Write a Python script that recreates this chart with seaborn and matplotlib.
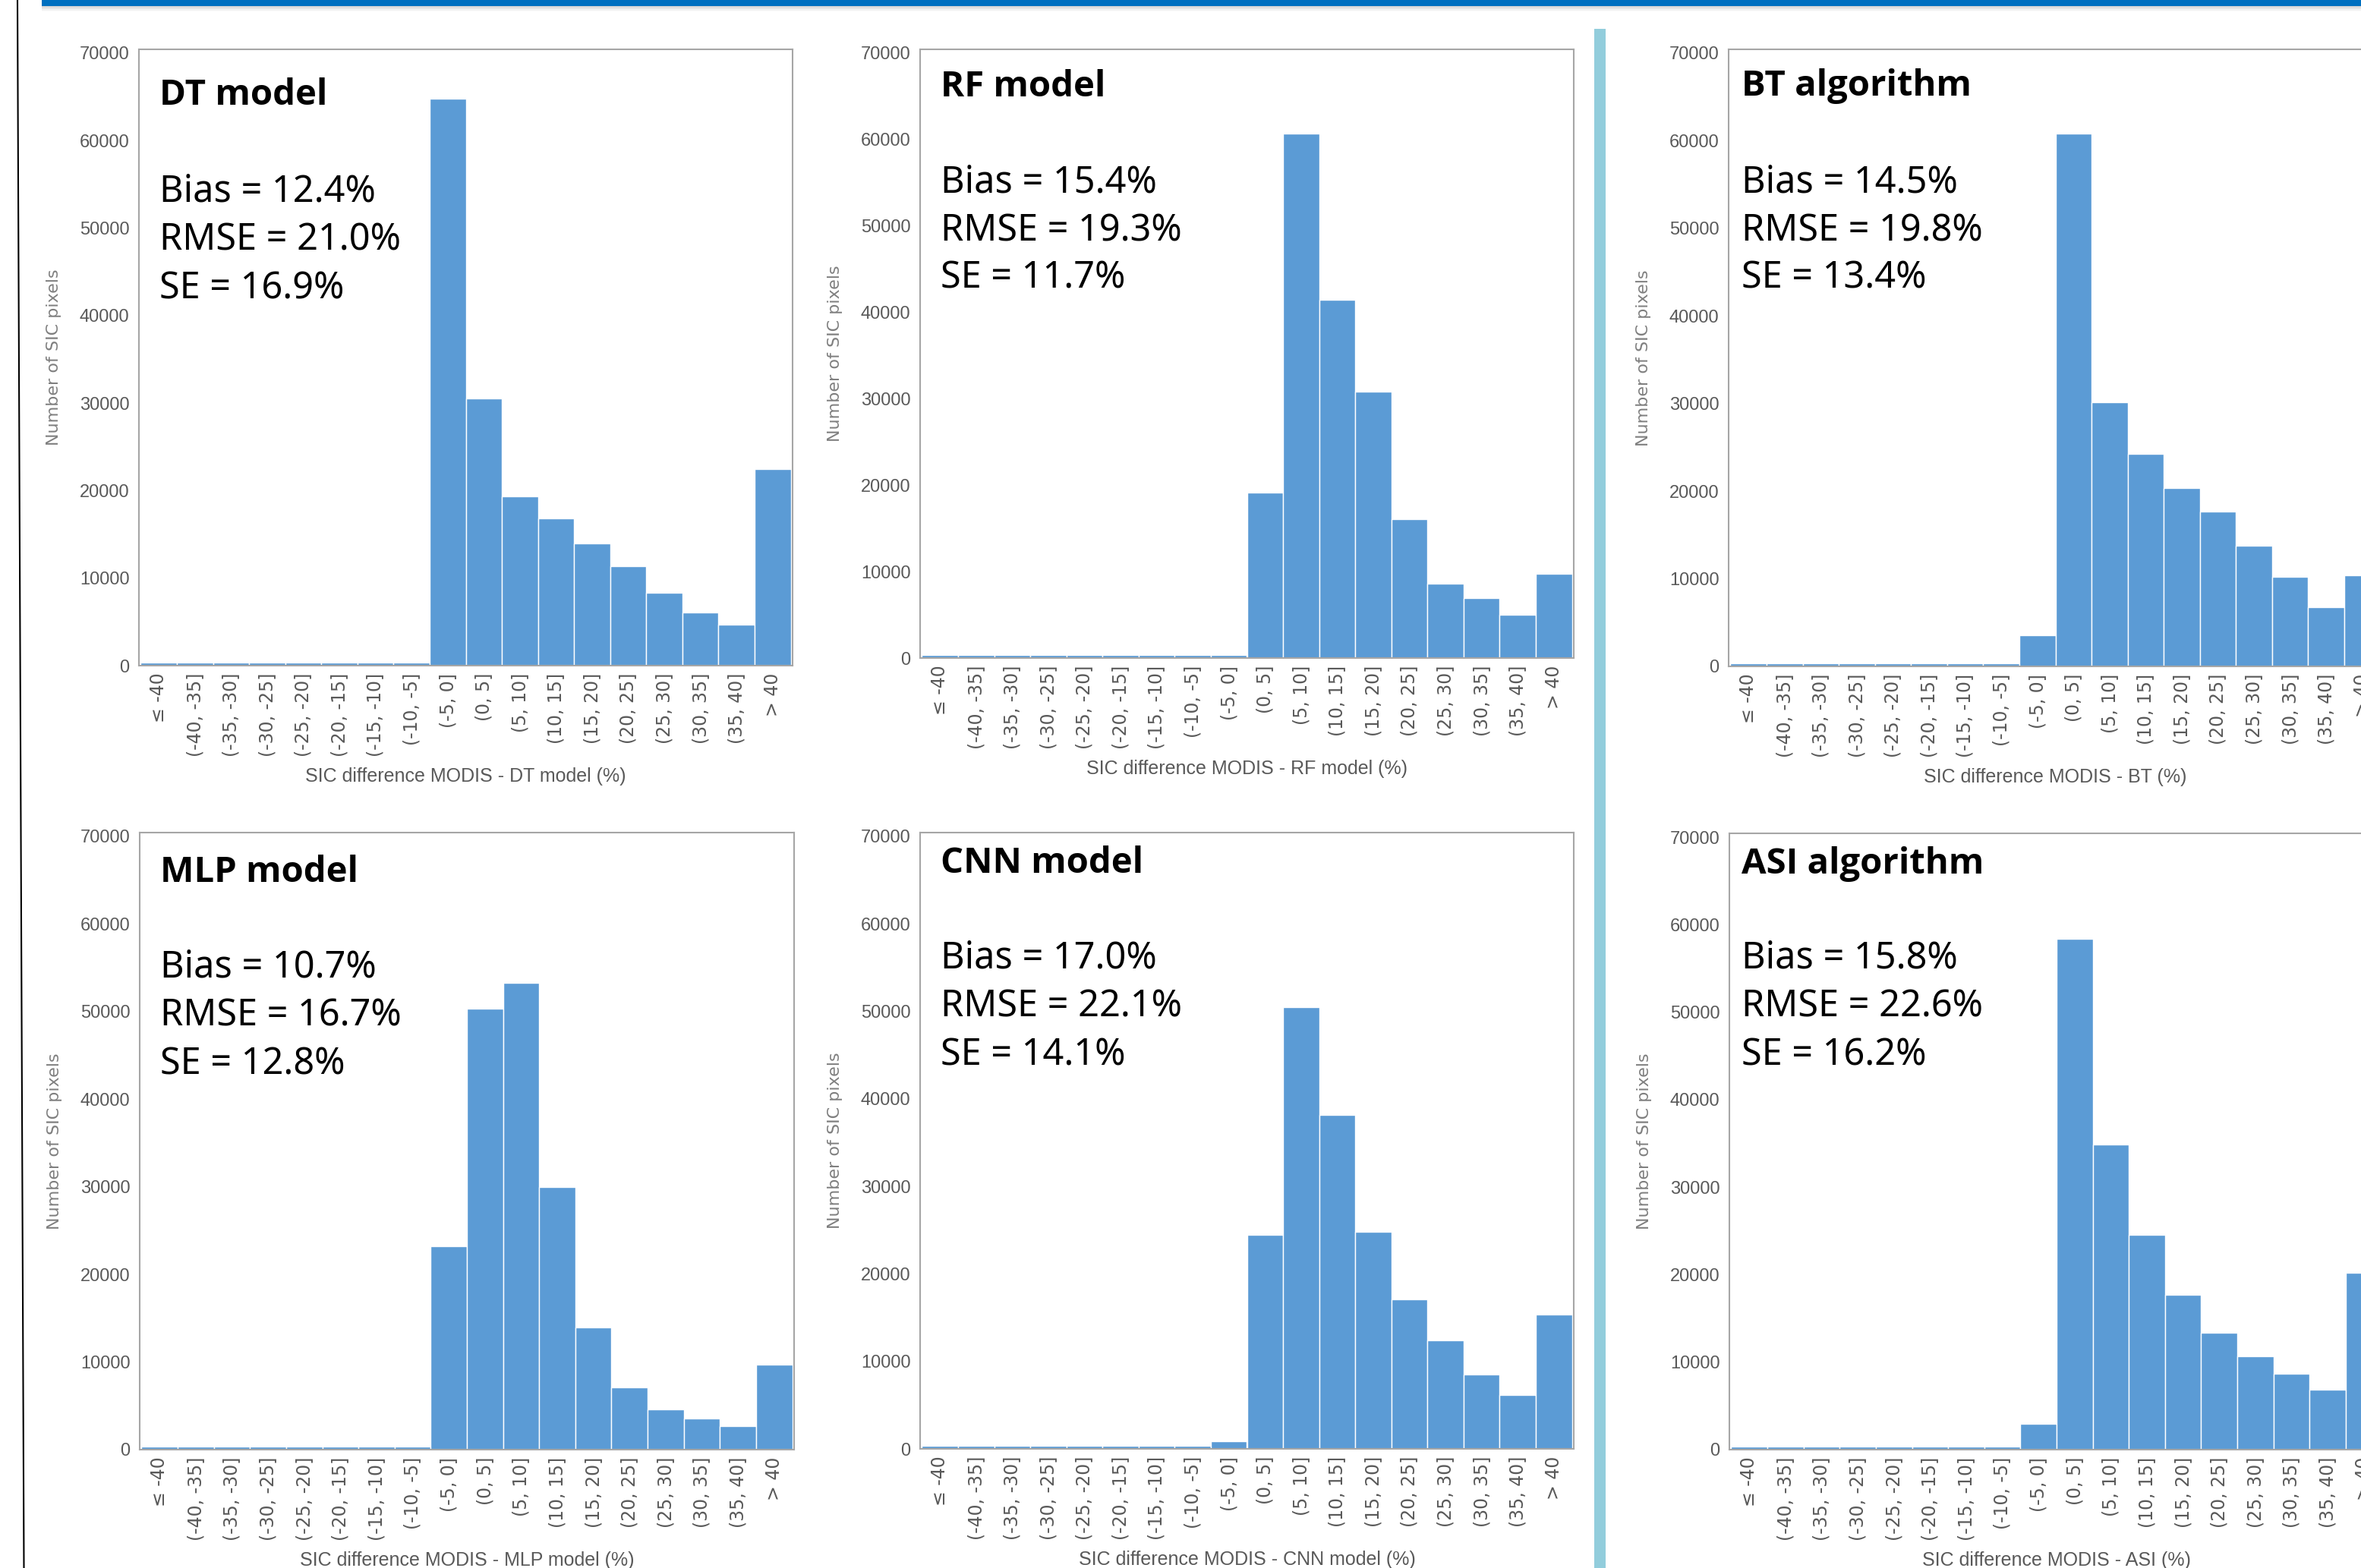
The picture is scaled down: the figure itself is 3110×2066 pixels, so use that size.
import matplotlib
matplotlib.use("Agg")
import matplotlib.pyplot as plt
import seaborn as sns
import pandas as pd
from matplotlib import font_manager
from matplotlib.lines import Line2D
from matplotlib.patches import Rectangle

# ---- data -------------------------------------------------------------
bins = ["≤ -40", "(-40, -35]", "(-35, -30]", "(-30, -25]", "(-25, -20]",
        "(-20, -15]", "(-15, -10]", "(-10, -5]", "(-5, 0]", "(0, 5]",
        "(5, 10]", "(10, 15]", "(15, 20]", "(20, 25]", "(25, 30]",
        "(30, 35]", "(35, 40]", "> 40"]

dt_counts = [350, 350, 350, 350, 350, 350, 350, 350,
             64800, 30500, 19300, 16800, 13970, 11340, 8370, 6070, 4660, 22440]
rf_counts = [350, 350, 350, 350, 350, 350, 350, 350, 350,
             19180, 60730, 41460, 30840, 16040, 8610, 6900, 5000, 9710]
bt_counts = [350, 350, 350, 350, 350, 350, 350, 350,
             3520, 60780, 30150, 24240, 20340, 17710, 13810, 10190, 6760, 10380]
mlp_counts = [350, 350, 350, 350, 350, 350, 350, 350,
              23180, 50300, 53300, 29990, 13940, 7090, 4600, 3520, 2670, 9710]
cnn_counts = [350, 350, 350, 350, 350, 350, 350, 350,
              890, 24430, 50450, 38140, 24850, 17050, 12400, 8500, 6150, 15360]
asi_counts = [350, 350, 350, 350, 350, 350, 350, 350,
              2910, 58390, 34850, 24570, 17710, 13340, 10710, 8690, 6810, 20200]

titles = ["DT model", "RF model", "BT algorithm",
          "MLP model", "CNN model", "ASI algorithm"]
bias = [12.4, 15.4, 14.5, 10.7, 17.0, 15.8]
rmse = [21.0, 19.3, 19.8, 16.7, 22.1, 22.6]
se = [16.9, 11.7, 13.4, 12.8, 14.1, 16.2]
xlabels = ["SIC difference MODIS - DT model (%)",
           "SIC difference MODIS - RF model (%)",
           "SIC difference MODIS - BT (%)",
           "SIC difference MODIS - MLP model (%)",
           "SIC difference MODIS - CNN model (%)",
           "SIC difference MODIS - ASI (%)"]
counts = [dt_counts, rf_counts, bt_counts, mlp_counts, cnn_counts, asi_counts]

# ---- layout (figure pixels) --------------------------------------------
W, H = 3110, 2066
# left, right, pixel row of 0, pixel row of 70000
boxes = [(183, 1044, 877, 70), (1212, 2073, 867, 70), (2277, 3138, 878, 70),
         (184, 1046, 1910, 1102), (1212, 2073, 1909, 1102), (2278, 3140, 1910, 1103)]
# text left edge, title baseline, stat-line baselines
text_pos = [(210, 138, (265, 330, 393)), (1239, 127, (253, 317, 380)),
            (2294, 126, (253, 317, 380)), (211, 1162, (1287, 1352, 1416)),
            (1239, 1150, (1276, 1340, 1404)), (2294, 1151, (1276, 1340, 1403))]

BAR = "#5B9BD5"
FRAME = "#A6A6A6"
GREY = "#595959"


def bold_family(candidates):
    """First family in the list that ships a real bold face."""
    for name in candidates:
        for f in font_manager.fontManager.ttflist:
            w = f.weight
            if isinstance(w, str):
                w = font_manager.weight_dict.get(w, 400)
            if f.name == name and w >= 600:
                return name
    return "DejaVu Sans"


TITLE_FONT = bold_family(["Noto Sans", "Open Sans", "Lato", "Roboto",
                          "Liberation Sans"])

sns.set_style("white")
plt.rcParams["font.family"] = ["DejaVu Sans"]

fig = plt.figure(figsize=(W / 100, H / 100), dpi=100)
fig.patch.set_facecolor("white")


def fx(px):
    return px / W


def fy(py):
    return 1 - py / H


for i in range(6):
    left, right, y0, y70 = boxes[i]
    top = y70 - 5.4
    ax = fig.add_axes([fx(left), fy(y0), (right - left) / W, (y0 - top) / H])
    df = pd.DataFrame({"bin": bins, "count": counts[i]})
    sns.barplot(data=df, x="bin", y="count", color=BAR, saturation=1,
                edgecolor="white", linewidth=1.0, width=1.0, ax=ax)
    ax.set_xlim(-0.55, len(bins) - 0.45)
    ax.set_ylim(0, 70000 * (y0 - top) / (y0 - y70))
    ax.set_yticks(range(0, 70001, 10000))
    ax.tick_params(axis="y", length=0, pad=9, labelsize=17, labelcolor=GREY)
    for lab in ax.get_yticklabels():
        lab.set_fontfamily("Liberation Sans")
    ax.tick_params(axis="x", length=0, pad=7, labelcolor=GREY,
                   labelrotation=90)
    for lab in ax.get_xticklabels():
        lab.set_fontsize(17)
    for sp in ax.spines.values():
        sp.set_visible(True)
        sp.set_color(FRAME)
        sp.set_linewidth(1.5)

    ax.set_ylabel("Number of SIC pixels", fontsize=16, color="#7F7F7F")
    ax.yaxis.set_label_coords(-102 / (right - left), 0.5)
    ax.set_xlabel(xlabels[i], fontsize=18, color=GREY,
                  fontfamily="Liberation Sans")
    ax.xaxis.set_label_coords(0.5, -146 / (y0 - top))
    ax.xaxis.label.set_va("center")

    tx, tb, sb = text_pos[i]
    fig.text(fx(tx), fy(tb), titles[i], fontsize=34, fontweight="bold",
             fontfamily=TITLE_FONT, ha="left", va="baseline", color="black")
    lines = [f"Bias = {bias[i]:.1f}%", f"RMSE = {rmse[i]:.1f}%",
             f"SE = {se[i]:.1f}%"]
    for line, yb in zip(lines, sb):
        fig.text(fx(tx), fy(yb), line, fontsize=35, fontfamily="Noto Sans",
                 ha="left", va="baseline", color="black")

# ---- page furniture ----------------------------------------------------
# blue header band with a soft shadow
fig.add_artist(Rectangle((fx(55), fy(8)), (W - 55) / W, 8 / H,
                         transform=fig.transFigure, color="#0070C0", lw=0))
for k, a in enumerate([0.35, 0.25, 0.16, 0.09, 0.04]):
    fig.add_artist(Rectangle((fx(55), fy(9 + k * 1.5)), (W - 55) / W, 1.5 / H,
                             transform=fig.transFigure, color="#808080",
                             alpha=a, lw=0))
# column divider
fig.add_artist(Rectangle((fx(2100), fy(H)), 15 / W, (H - 38) / H,
                         transform=fig.transFigure, color="#92CDDC", lw=0))
# left page border
fig.add_artist(Line2D([fx(23), fx(31.5)], [fy(0), fy(H)],
                      transform=fig.transFigure, color="black", lw=1.5))

fig.savefig("out.png", dpi=100)
